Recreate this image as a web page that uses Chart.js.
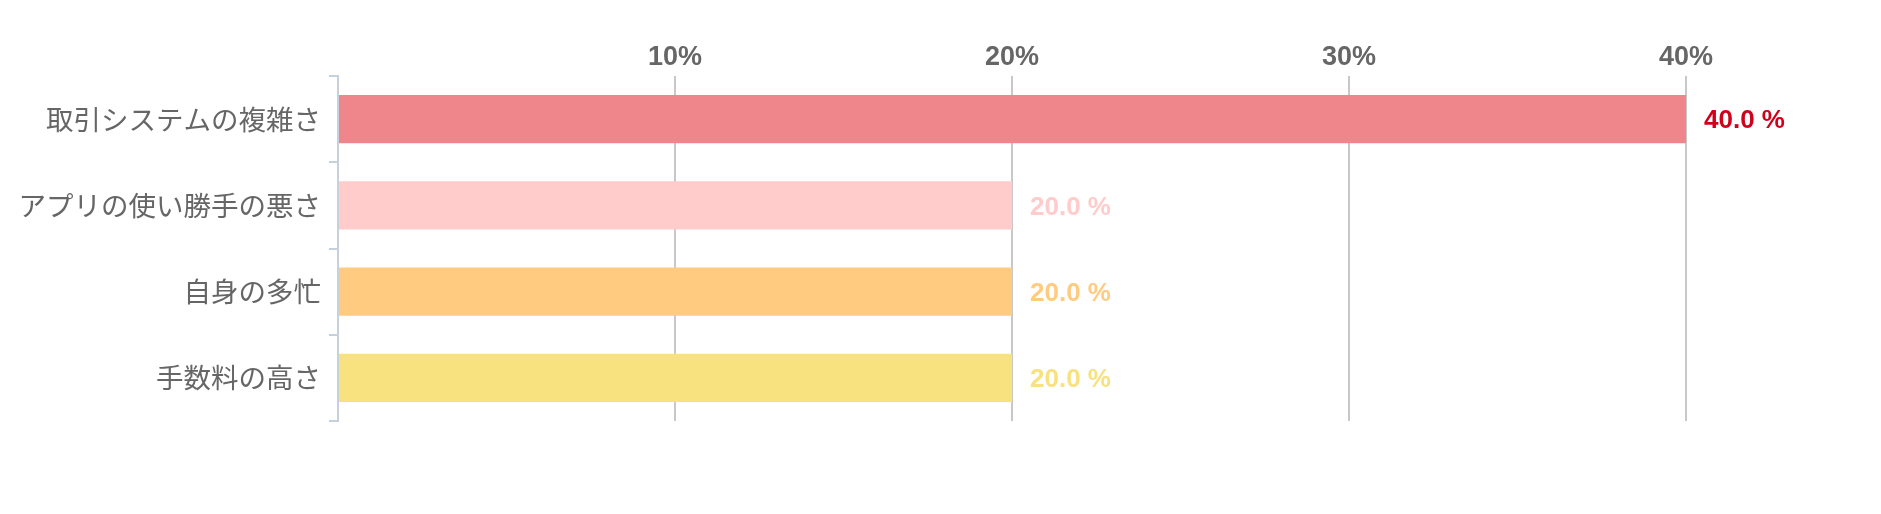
<!DOCTYPE html>
<html>
<head>
<meta charset="utf-8">
<script src="https://cdn.jsdelivr.net/npm/chart.js@4"></script>
<style>
  html, body { margin: 0; padding: 0; background: #fff; }
  #wrap { width: 1881px; height: 514px; }
</style>
</head>
<body>
<div id="wrap"><canvas id="chart"></canvas></div>
<script>
const categories = ["取引システムの複雑さ", "アプリの使い勝手の悪さ", "自身の多忙", "手数料の高さ"];
const values = [40, 20, 20, 20];
const barColors = ["#ee868b", "#ffcbcb", "#ffcb80", "#f8e17f"];
const labelColors = ["#d0021b", "#ffcbcb", "#ffcb80", "#f8e17f"];
const xTicks = [10, 20, 30, 40];

// draws "40.0 %" style labels to the right of each bar
const valueLabels = {
  id: "valueLabels",
  afterDatasetsDraw(chart) {
    const ctx = chart.ctx;
    const meta = chart.getDatasetMeta(0);
    ctx.save();
    ctx.font = "bold 26px 'Liberation Sans', Arial, sans-serif";
    ctx.textAlign = "left";
    ctx.textBaseline = "middle";
    meta.data.forEach((bar, i) => {
      ctx.fillStyle = labelColors[i];
      ctx.fillText(values[i].toFixed(1) + " %", bar.x + 18, bar.y + 2);
    });
    ctx.restore();
  }
};

new Chart(document.getElementById("chart"), {
  type: "bar",
  data: {
    labels: categories,
    datasets: [{
      data: values,
      backgroundColor: barColors,
      borderWidth: 0,
      categoryPercentage: 1,
      barPercentage: 0.56
    }]
  },
  options: {
    indexAxis: "y",
    responsive: true,
    maintainAspectRatio: false,
    animation: false,
    layout: { padding: { top: 0, left: 0, right: 195, bottom: 93 } },
    plugins: { legend: { display: false }, tooltip: { enabled: false } },
    scales: {
      x: {
        position: "top",
        min: 0,
        max: 40,
        afterFit(scale) { scale.height = 76; },
        afterBuildTicks(scale) {
          scale.ticks = [0].concat(xTicks).map(v => ({ value: v }));
        },
        border: { display: false },
        grid: {
          drawTicks: false,
          lineWidth: 2,
          color: c => (c.tick && c.tick.value === 0 ? "rgba(0,0,0,0)" : "#c8c8c8")
        },
        ticks: {
          padding: 2,
          color: "#666",
          font: { family: "'Liberation Sans', Arial, sans-serif", size: 27, weight: "bold" },
          callback: v => (v === 0 ? "" : v + "%")
        }
      },
      y: {
        afterFit(scale) { scale.width = 338; },
        border: { color: "#c5d1dc", width: 2 },
        grid: {
          drawOnChartArea: false,
          drawTicks: true,
          tickLength: 9,
          lineWidth: 2,
          color: "#c5d1dc"
        },
        ticks: {
          padding: 8,
          color: "#666",
          font: { family: "'Noto Sans CJK JP', sans-serif", size: 27.5 }
        }
      }
    }
  },
  plugins: [valueLabels]
});
</script>
</body>
</html>
